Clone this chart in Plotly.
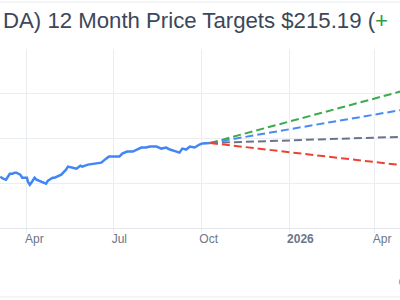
import plotly.graph_objects as go

# Historical closing prices
hist_dates = ["2025-03-04", "2025-03-07", "2025-03-10", "2025-03-12", "2025-03-14", "2025-03-17",
              "2025-03-19", "2025-03-21", "2025-03-25", "2025-03-27", "2025-04-01", "2025-04-02",
              "2025-04-04", "2025-04-07", "2025-04-08", "2025-04-09", "2025-04-11", "2025-04-16",
              "2025-04-21", "2025-04-23", "2025-04-28", "2025-04-30", "2025-05-02", "2025-05-07",
              "2025-05-12", "2025-05-14", "2025-05-19", "2025-05-23", "2025-05-27", "2025-05-29",
              "2025-06-04", "2025-06-11", "2025-06-16", "2025-06-18", "2025-06-23", "2025-06-26",
              "2025-06-30", "2025-07-07", "2025-07-10", "2025-07-15", "2025-07-21", "2025-07-25",
              "2025-07-30", "2025-08-04", "2025-08-08", "2025-08-15", "2025-08-20", "2025-08-25",
              "2025-08-29", "2025-09-05", "2025-09-08", "2025-09-11", "2025-09-15", "2025-09-19",
              "2025-09-24", "2025-09-29", "2025-10-02", "2025-10-06", "2025-10-10"]
hist_prices = [114.6, 110.1, 107.9, 114.6, 121.3, 121.3,
               123.6, 123.6, 119.1, 112.4, 112.4, 103.4,
               96.6, 105.6, 107.9, 112.4, 107.9, 103.4,
               98.9, 105.6, 112.4, 112.4, 114.6, 119.1,
               130.3, 137.1, 134.8, 132.6, 139.3, 137.1,
               141.6, 143.8, 143.8, 146.1, 155.0, 159.5,
               159.5, 159.5, 166.3, 170.8, 170.8, 175.3,
               179.8, 179.8, 182.0, 182.0, 177.5, 179.8,
               175.3, 170.8, 168.5, 177.5, 175.3, 182.0,
               179.8, 186.5, 189.0, 189.5, 190.0]

# 12-month price targets
fc_dates = ["2025-10-10", "2026-10-10"]
target_names = ["High", "Median", "Average", "Low"]
target_values = [400.0, 324.0, 215.19, 100.0]
target_colors = ["#3daa4e", "#4a8af4", "#6b7386", "#ea4335"]

tick_vals = ["2025-04-01", "2025-07-01", "2025-10-01", "2026-01-01", "2026-04-01"]
tick_text = ["Apr", "Jul", "Oct", "<b>2026</b>", "Apr"]

fig = go.Figure()
for name, val, col in zip(target_names, target_values, target_colors):
    fig.add_trace(go.Scatter(x=fc_dates, y=[hist_prices[-1], val], mode="lines", name=name,
                             line=dict(color=col, width=2, dash="8px,4px"),
                             showlegend=False, hoverinfo="skip"))
fig.add_trace(go.Scatter(x=hist_dates, y=hist_prices, mode="lines", name="Price",
                         line=dict(color="#4285f4", width=2.5), showlegend=False))

fig.update_layout(
    width=400, height=300,
    margin=dict(l=0, r=0, t=49, b=72, pad=0),
    paper_bgcolor="white", plot_bgcolor="white",
    font=dict(family="Liberation Sans, Arial, sans-serif"),
    xaxis=dict(type="date", range=["2025-03-03 17:00", "2026-04-27 10:00"],
               tickvals=tick_vals, ticktext=tick_text,
               showgrid=True, gridcolor="#eaedf2", gridwidth=1,
               ticks="outside", ticklen=4, tickcolor="#eaedf2",
               ticklabelposition="outside right", ticklabelshift=-3,
               tickfont=dict(size=12, color="#6c7689"),
               showline=True, linecolor="#e3e7ed", linewidth=1, zeroline=False),
    yaxis=dict(range=[0, 400], tickvals=[0, 100, 200, 300, 400],
               showgrid=True, gridcolor="#eaedf2", gridwidth=1,
               showticklabels=False, zeroline=False, showline=False),
    annotations=[
        dict(text="DA) 12 Month Price Targets $215.19 (<span style='color:#2e9e3e'>+</span>",
             xref="paper", yref="paper", x=0, y=(300 - 21 - 72) / 179,
             xanchor="left", yanchor="middle", xshift=1, showarrow=False,
             font=dict(size=22.2, color="#3c4759")),
        dict(text="©", xref="paper", yref="paper", x=1, y=(300 - 283 - 72) / 179,
             xanchor="left", yanchor="middle", xshift=-3, showarrow=False,
             font=dict(size=12, color="#3c4759")),
    ],
    shapes=[
        dict(type="line", xref="paper", yref="paper", x0=0, x1=1,
             y0=(300 - 2 - 72) / 179, y1=(300 - 2 - 72) / 179,
             line=dict(color="#e6e9ee", width=1)),
        dict(type="line", xref="paper", yref="paper", x0=0, x1=1,
             y0=(300 - 297 - 72) / 179, y1=(300 - 297 - 72) / 179,
             line=dict(color="#e6e9ee", width=1)),
    ],
)
fig.write_html("out.html")
